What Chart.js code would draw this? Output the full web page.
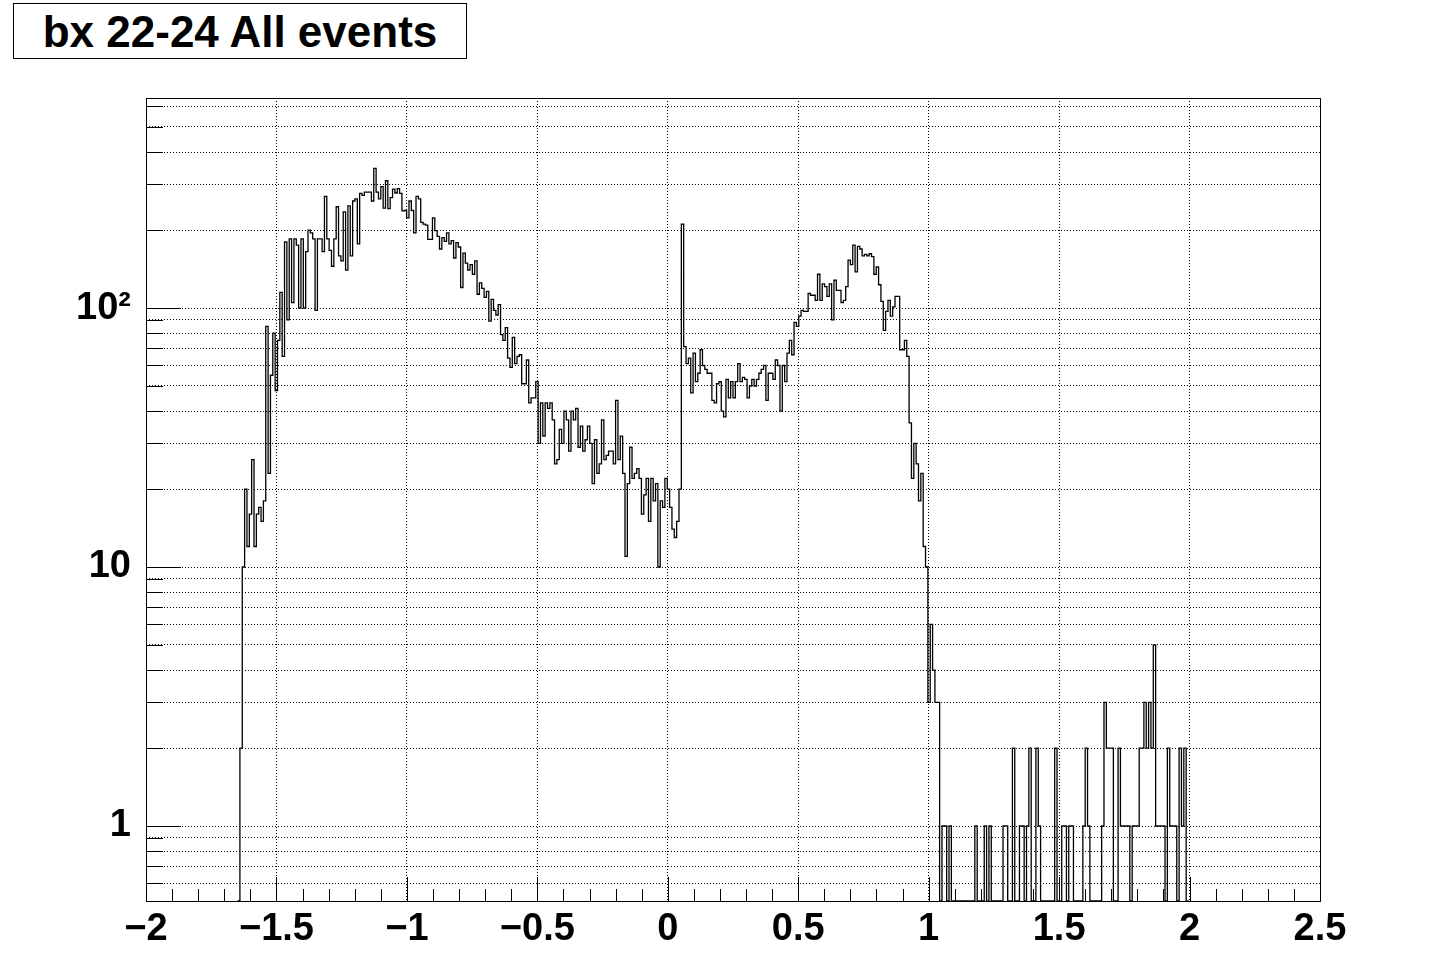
<!DOCTYPE html>
<html>
<head>
<meta charset="utf-8">
<script src="https://cdn.jsdelivr.net/npm/chart.js@4.4.1/dist/chart.umd.min.js"></script>
<style>
  html, body { margin: 0; padding: 0; background: #fff; }
  #wrap { position: relative; width: 1437px; height: 966px; overflow: hidden; }
  #c { position: absolute; left: 0; top: 0; }
  #title {
    position: absolute; left: 13px; top: 3px; width: 452px; height: 54px;
    border: 1px solid #000; background: #fff; text-align: center;
    font: bold 44px "Liberation Sans", Arial, sans-serif; line-height: 56px;
  }
</style>
</head>
<body>
<div id="wrap">
  <canvas id="c" width="1437" height="966"></canvas>
  <div id="title">bx 22-24 All events</div>
</div>
<script>
// histogram binning: 500 bins from -2 to 2.5
const xMin = -2;
const xMax = 2.5;
const nBins = 500;
const firstBin = 40; // index of the first filled bin

// counts, bin by bin, left to right
const riseCounts = [2, 10, 20, 12, 16, 26, 12, 16, 17, 15, 18, 85, 23, 55, 80, 48, 75, 115, 65, 180,
  90, 185, 105, 185, 175, 100, 185, 100, 165, 200, 195, 185, 98, 185, 185, 165, 270, 185];
const peak1Counts = [167, 145, 185, 246, 159, 152, 235, 140, 248, 159,
  259, 264, 177, 277, 272, 280, 280, 280, 259, 346,
  280, 264, 294, 243, 310, 242, 267, 288, 278, 289,
  277, 237, 238, 223, 259, 238, 195, 270, 264, 214,
  211, 209, 184, 184, 223, 199, 189, 169, 187];
const fallCounts = [181, 195, 177, 182, 156, 179, 172, 120, 163, 149,
  140, 147, 135, 152, 113, 125, 119, 110, 116, 89,
  108, 98, 94, 103, 79, 75, 84, 64, 59, 77,
  61, 65, 66, 51, 51, 63, 43, 45, 45, 52,
  30, 43, 32, 43, 41, 43, 37, 25, 26, 34];
const valleyCounts = [30, 40, 37, 28, 40, 37, 41, 29, 35, 28,
  31, 35, 30, 21, 31, 23, 25, 37, 26, 27,
  28, 28, 25, 44, 26, 32, 23, 11, 21, 29,
  22, 23, 24, 22, 16, 19, 22, 15, 22, 18,
  21, 10, 18, 17, 22, 20, 17, 14, 13, 15, 20];
const plateauCounts = [211, 71, 61, 64, 47, 67, 52, 56, 69, 60,
  58, 56, 56, 44, 43, 51, 52, 40, 38, 53,
  45, 52, 45, 52, 61, 52, 54, 53, 45, 50,
  53, 50, 53, 56, 58, 60, 44, 56, 56, 53,
  63, 60, 40, 60, 52, 67, 75, 66, 88];
const peak2Counts = [85, 93, 98, 97, 97, 114, 112, 112, 107, 135,
  107, 124, 121, 111, 124, 90, 128, 117, 117, 105,
  107, 121, 153, 147, 175, 138, 173, 169, 159, 161,
  159, 162, 158, 135, 144, 123, 106, 82, 97, 107,
  93, 101, 111, 111, 69, 69, 75, 65];
const dropCounts = [36, 22, 30, 25, 18, 23, 12, 10, 3, 6, 4, 3, 3];
const tailCounts = [0, 1, 1, 0, 1, 0, 0, 0, 0, 0, 0, 0, 0, 0, 0,
  1, 0, 0, 0, 1, 0, 1, 0, 0, 0, 0, 0,
  1, 1, 0, 0, 2, 0, 0, 1, 1, 0, 1, 2, 0, 0, 2, 1,
  0, 0, 0, 0, 0, 0, 2, 0, 0, 1, 1, 0, 1, 1,
  0, 0, 0, 0, 1, 2, 1, 0, 0, 0, 0, 0,
  1, 3, 2, 2, 2, 0, 0, 2, 1, 1, 1, 1, 0, 1, 1, 1, 2, 2, 3, 2, 3, 2, 5,
  1, 1, 1, 1, 0, 2, 1, 1, 1, 0, 2, 1, 2, 0];

// axis settings
const yMin = 0.5134;
const yMax = 647;
const yGridValues = [0.6, 0.7, 0.8, 0.9, 1, 2, 3, 4, 5, 6, 7, 8, 9,
  10, 20, 30, 40, 50, 60, 70, 80, 90, 100, 200, 300, 400, 500, 600];
const yLabels = { 1: '1', 10: '10', 100: '10\u00b2' };
const yMajor = [1, 10, 100];

const counts = [].concat(riseCounts, peak1Counts, fallCounts, valleyCounts,
  plateauCounts, peak2Counts, dropCounts, tailCounts);
const binWidth = (xMax - xMin) / nBins;
const edge = (n) => xMin + n * binWidth;

const points = [{ x: edge(firstBin - 1), y: 0 }];
counts.forEach((c, i) => points.push({ x: edge(firstBin + i), y: c }));
points.push({ x: edge(firstBin + counts.length), y: 0 });

const FONT = '"Liberation Sans", Arial, Helvetica, sans-serif';

function fmtX(v) {
  const r = Math.round(v * 10) / 10;
  return (r < 0 ? '\u2212' : '') + Math.abs(r);
}

// ROOT-style tick marks (inside the frame) and the frame itself
const frameTicks = {
  id: 'frameTicks',
  afterDraw(chart) {
    const { ctx, chartArea: a } = chart;
    const xs = chart.scales.x;
    const ys = chart.scales.y;
    ctx.save();
    ctx.setLineDash([]);
    ctx.strokeStyle = '#000';
    ctx.lineWidth = 1;
    ctx.beginPath();
    for (let i = 0; i <= 45; i++) {
      const v = xMin + i * 0.1;
      const px = Math.round(xs.getPixelForValue(v)) + 0.5;
      const len = i % 5 === 0 ? 24 : 12;
      ctx.moveTo(px, a.bottom);
      ctx.lineTo(px, a.bottom - len);
    }
    yGridValues.forEach((v) => {
      const py = Math.round(ys.getPixelForValue(v)) + 0.5;
      const len = yMajor.includes(v) ? 35 : 17;
      ctx.moveTo(a.left, py);
      ctx.lineTo(a.left + len, py);
    });
    ctx.stroke();
    ctx.strokeRect(a.left + 0.5, a.top + 0.5, a.right - a.left, a.bottom - a.top);
    ctx.restore();
  },
};

new Chart(document.getElementById('c'), {
  type: 'line',
  data: {
    datasets: [{
      data: points,
      parsing: false,
      stepped: 'before',
      borderColor: '#000',
      borderWidth: 1.3,
      pointRadius: 0,
      fill: false,
      tension: 0,
    }],
  },
  options: {
    responsive: false,
    animation: false,
    devicePixelRatio: 1,
    layout: { padding: { top: 98, right: 117, left: 0, bottom: 0 } },
    plugins: { legend: { display: false }, tooltip: { enabled: false }, title: { display: false } },
    scales: {
      x: {
        type: 'linear',
        min: xMin,
        max: xMax,
        afterFit(s) { s.height = 65; },
        ticks: {
          stepSize: 0.5,
          autoSkip: false,
          maxRotation: 0,
          padding: 6,
          color: '#000',
          font: { family: FONT, size: 38, weight: 'bold' },
          callback: (v) => fmtX(v),
        },
        grid: { drawTicks: false, color: '#000', lineWidth: 1 },
        border: { display: false, dash: [1, 2] },
      },
      y: {
        type: 'logarithmic',
        min: yMin,
        max: yMax,
        afterFit(s) { s.width = 146; },
        afterBuildTicks(s) { s.ticks = yGridValues.map((v) => ({ value: v })); },
        ticks: {
          autoSkip: false,
          padding: 15,
          color: '#000',
          font: { family: FONT, size: 38, weight: 'bold' },
          callback: (v) => yLabels[v] || '',
        },
        grid: { drawTicks: false, color: '#000', lineWidth: 1 },
        border: { display: false, dash: [1, 2] },
      },
    },
  },
  plugins: [frameTicks],
});
</script>
</body>
</html>
